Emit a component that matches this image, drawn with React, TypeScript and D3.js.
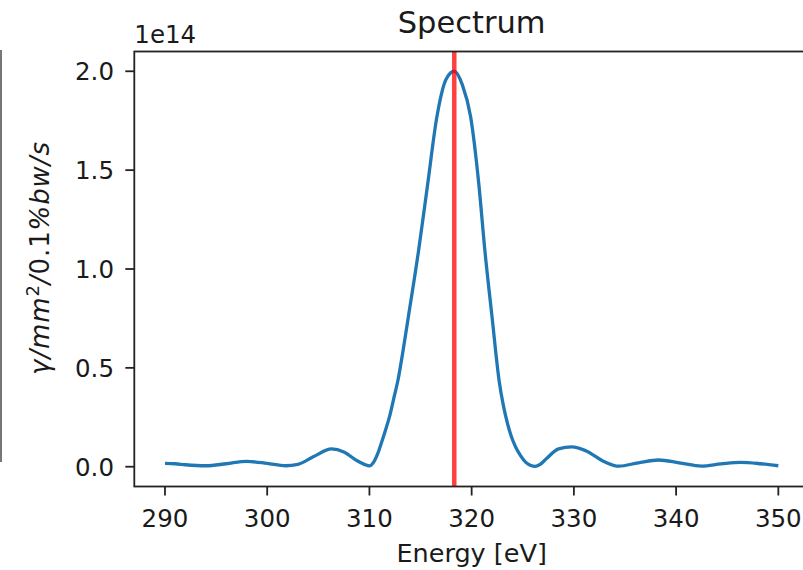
import React from "react";
import * as d3 from "d3";

// Spectrum samples (energy in eV, flux in units of 1e14)
const energies = [
  290.0, 291.0, 292.0, 294.0, 296.0, 298.0, 300.0, 301.8, 303.0, 304.5,
  306.3, 307.5, 308.8, 309.5, 310.0, 310.4, 310.8, 311.2, 311.6, 312.0,
  312.4, 312.8, 313.3, 313.8, 314.8, 315.7, 316.6, 317.5, 318.3, 319.1,
  319.9, 320.7, 321.3, 322.0, 322.7, 323.1, 323.5, 323.9, 324.3, 324.8,
  325.3, 325.8, 326.2, 326.7, 327.3, 328.5, 329.8, 331.2, 333.0, 334.4,
  336.3, 338.3, 340.3, 342.5, 344.4, 346.3, 348.3, 350.0,
];
const flux = [
  0.017, 0.015, 0.010, 0.005, 0.015, 0.027, 0.017, 0.005, 0.012, 0.05,
  0.09, 0.075, 0.03, 0.012, 0.004, 0.022, 0.065, 0.125, 0.19, 0.26,
  0.35, 0.44, 0.59, 0.755, 1.09, 1.43, 1.77, 1.96, 2.0, 1.93,
  1.77, 1.43, 1.09, 0.755, 0.43, 0.31, 0.22, 0.15, 0.1, 0.055,
  0.022, 0.006, 0.002, 0.012, 0.04, 0.09, 0.10, 0.08, 0.025, 0.003,
  0.02, 0.034, 0.02, 0.003, 0.014, 0.022, 0.015, 0.005,
];
const markerEnergy = 318.3;
const xTicks = [290, 300, 310, 320, 330, 340, 350];
const yTicks = [0.0, 0.5, 1.0, 1.5, 2.0];
const xDomain = [287, 353];
const yDomain = [-0.1, 2.1];

const FONT = "DejaVu Sans, sans-serif";
const TEXT = "#1a1a1a";

export default function App() {
  const left = 134.3;
  const right = 809;
  const top = 51.5;
  const bottom = 486.5;
  const x = d3.scaleLinear().domain(xDomain).range([left, right]);
  const y = d3.scaleLinear().domain(yDomain).range([bottom, top]);
  const pts = energies.map((e, i) => [e, flux[i]] as [number, number]);
  const line = d3
    .line<[number, number]>()
    .x((d) => x(d[0]))
    .y((d) => y(d[1]))
    .curve(d3.curveMonotoneX);

  return (
    <svg
      width={803}
      height={570}
      style={{ position: "absolute", left: 0, top: 0, background: "#fff" }}
      fontFamily={FONT}
    >
      <rect width={803} height={570} fill="#fff" />
      {/* stray frame edge at far left */}
      <line x1={1} x2={1} y1={50} y2={462} stroke="#555" strokeWidth={1.6} />

      <defs>
        <clipPath id="plotclip">
          <rect x={left} y={top} width={right - left} height={bottom - top} />
        </clipPath>
      </defs>

      <g clipPath="url(#plotclip)">
        <path d={line(pts) || ""} fill="none" stroke="#1f77b4" strokeWidth={3.3} strokeLinejoin="round" />
        <line
          x1={x(markerEnergy)}
          x2={x(markerEnergy)}
          y1={top}
          y2={bottom}
          stroke="#ff0000"
          strokeOpacity={0.75}
          strokeWidth={4.5}
        />
      </g>

      {/* spines */}
      <rect x={left} y={top} width={right - left} height={bottom - top} fill="none" stroke="#222" strokeWidth={1.8} />

      {/* x ticks */}
      {xTicks.map((t) => (
        <g key={"x" + t}>
          <line x1={x(t)} x2={x(t)} y1={bottom} y2={bottom + 9} stroke="#222" strokeWidth={1.8} />
          <text x={x(t)} y={527} textAnchor="middle" fontSize={24.5} fill={TEXT}>
            {t}
          </text>
        </g>
      ))}

      {/* y ticks */}
      {yTicks.map((t) => (
        <g key={"y" + t}>
          <line x1={left - 9} x2={left} y1={y(t)} y2={y(t)} stroke="#222" strokeWidth={1.8} />
          <text x={114} y={y(t)} dy="0.36em" textAnchor="end" fontSize={24.5} fill={TEXT}>
            {t.toFixed(1)}
          </text>
        </g>
      ))}

      {/* offset text */}
      <text x={left} y={43} fontSize={24.5} fill={TEXT}>
        1e14
      </text>

      {/* title */}
      <text x={(left + right) / 2} y={33} textAnchor="middle" fontSize={30.5} fill={TEXT}>
        Spectrum
      </text>

      {/* x label */}
      <text x={(left + right) / 2} y={562} textAnchor="middle" fontSize={25.5} fill={TEXT}>
        Energy [eV]
      </text>

      {/* y label (mathtext-like) */}
      <text
        transform="translate(49,258) rotate(-90)"
        textAnchor="middle"
        fontSize={26}
        fill={TEXT}
        letterSpacing={0.9}
      >
        <tspan fontStyle="italic">γ/mm</tspan>
        <tspan fontSize={18} dy={-10}>2</tspan>
        <tspan dy={10} fontStyle="italic">/</tspan>
        <tspan>0.1</tspan>
        <tspan fontStyle="italic">%bw/s</tspan>
      </text>
    </svg>
  );
}
